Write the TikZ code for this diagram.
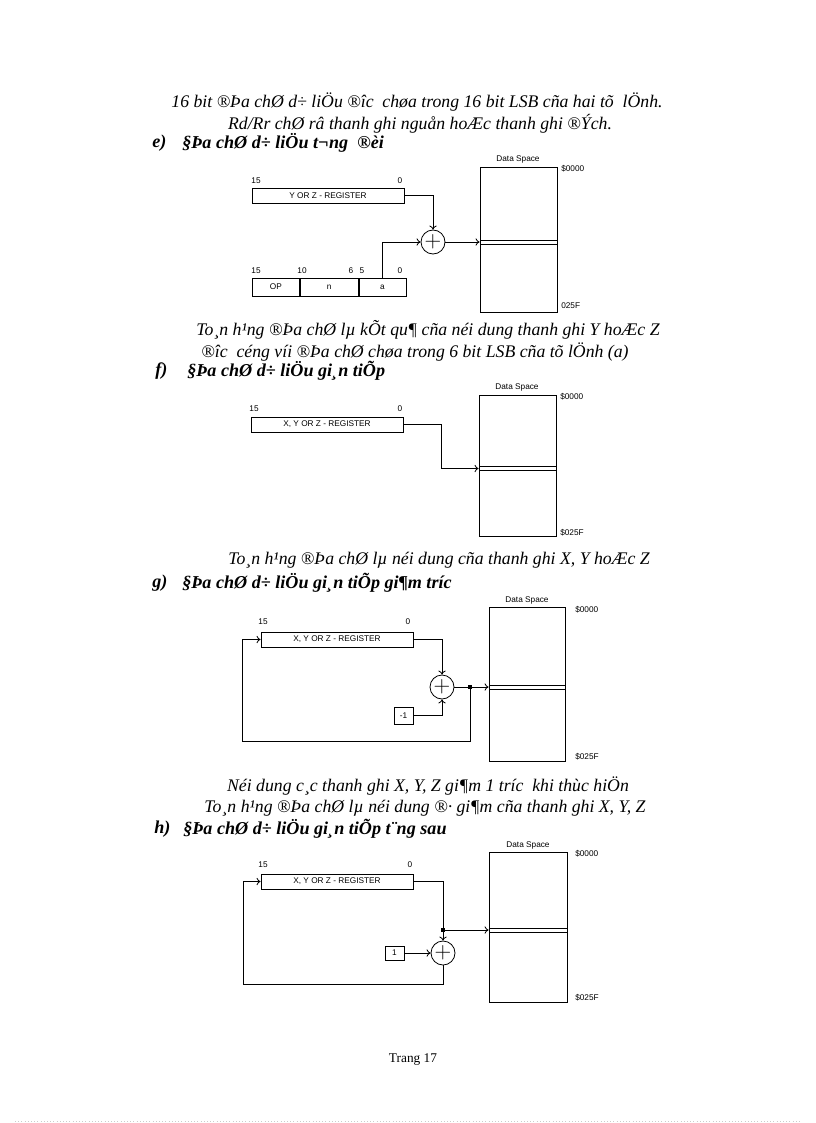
\documentclass[tikz,border=0pt]{standalone}
\usepackage{fontspec}
\setmainfont{Liberation Serif}
\setsansfont{Liberation Sans}
\usepackage{tikz}
\usetikzlibrary{positioning,arrows.meta}

\begin{document}
\begin{tikzpicture}[x=0.75pt,y=-0.75pt,>={To[length=3pt,width=5.5pt]},
  body/.style={font=\fontsize{13.3}{15}\selectfont\itshape,inner sep=0pt},
  head/.style={font=\fontsize{13.6}{15}\selectfont\bfseries\itshape,inner sep=0pt,anchor=west},
  tag/.style={font=\fontsize{6.2}{7}\selectfont\sffamily,inner sep=0pt},
  reg/.style={draw,line width=0.6pt,minimum width=114pt,minimum height=11.25pt,inner sep=0pt,font=\fontsize{6.2}{7}\selectfont\sffamily},
  cell/.style={draw,line width=0.6pt,minimum height=13.5pt,inner sep=0pt,font=\fontsize{6.2}{7}\selectfont\sffamily},
  adder/.style={draw,circle,line width=0.6pt,minimum size=18pt,inner sep=0pt,font=\fontsize{16}{16}\selectfont},
  dspace/.style={draw,line width=0.6pt,minimum width=57.75pt,inner sep=0pt},
  slot/.style={draw,line width=0.6pt,minimum width=57.75pt,minimum height=3pt,inner sep=0pt},
  dot/.style={fill,minimum size=3pt,inner sep=0pt},
  wire/.style={line width=0.6pt}]
\useasboundingbox (0,0) rectangle (816,1123);

% text above e)
\node[body] (t1) at (417,102) {16 bit ®Þa chØ d÷ liÖu ®îc\ \ chøa trong 16 bit LSB cña hai tõ\ \ lÖnh.};
\node[body] (t2) at (420,124) {Rd/Rr chØ râ thanh ghi nguån hoÆc thanh ghi ®Ých.};
\node[head] (he) at (152,143) {e)};
\node[head] (hetxt) at (182,143) {§Þa chØ d÷ liÖu t¬ng\ \ ®èi};

% e) relative
\node[tag] (dsEtag) at (518,159) {Data Space};
\node[dspace,minimum height=108.75pt] (dsE) at (518.5,239.5) {};
\node[slot] (slotE) at (518.5,242) {};
\node[tag,anchor=west] (topE) at (561,169) {\$0000};
\node[tag,anchor=west] (botE) at (561,306) {025F};
\node[reg] (regE) at (328,195.5) {Y OR Z - REGISTER};
\node[tag] at (256,181) {15};
\node[tag] at (400,181) {0};
\node[cell,minimum width=35.25pt,anchor=west] (opE) at (252,287) {OP};
\node[cell,minimum width=43.5pt,right=0pt of opE] (nE) {n};
\node[cell,minimum width=35.25pt,right=0pt of nE] (aE) {a};
\node[tag] at (256,271) {15};
\node[tag] at (302,271) {10};
\node[tag] at (351,271) {6};
\node[tag] at (362,271) {5};
\node[tag] at (400,271) {0};
\node[adder] (addE) at (433,242) {$+$};
\draw[wire,->] (regE.east) -| (addE.north);
\draw[wire,->] (aE.north) |- (addE.west);
\draw[wire,->] (addE.east) -- (slotE.west);

\node[body] (ce1) at (428,330) {To¸n h¹ng ®Þa chØ lµ kÕt qu¶ cña néi dung thanh ghi Y hoÆc Z};
\node[body] (ce2) at (415,352) {®îc\ \ céng víi ®Þa chØ chøa trong 6 bit LSB cña tõ lÖnh (a)};
\node[head] (hf) at (155,371) {f)};
\node[head] (hftxt) at (187,371) {§Þa chØ d÷ liÖu gi¸n tiÕp};

% f) indirect
\node[tag] (dsFtag) at (517,387) {Data Space};
\node[dspace,minimum height=105.75pt] (dsF) at (517.5,465.5) {};
\node[slot] (slotF) at (517.5,468.5) {};
\node[tag,anchor=west] (topF) at (560,397) {\$0000};
\node[tag,anchor=west] (botF) at (560,533) {\$025F};
\node[reg] (regF) at (327,424.5) {X, Y OR Z - REGISTER};
\node[tag] at (254,409) {15};
\node[tag] at (400,409) {0};
\coordinate (bendF) at (441,424.5);
\draw[wire,->] (regF.east) -- (bendF) |- (slotF.west);

\node[body] (cf) at (439,560) {To¸n h¹ng ®Þa chØ lµ néi dung cña thanh ghi X, Y hoÆc Z};
\node[head] (hg) at (152,583) {g)};
\node[head] (hgtxt) at (182,583) {§Þa chØ d÷ liÖu gi¸n tiÕp gi¶m tríc};

% g) pre-decrement
\node[tag] (dsGtag) at (527,600) {Data Space};
\node[dspace,minimum width=57pt,minimum height=115.5pt] (dsG) at (527,684) {};
\node[slot,minimum width=57pt] (slotG) at (527,687) {};
\node[tag,anchor=west] (topG) at (575,610) {\$0000};
\node[tag,anchor=west] (botG) at (575,757) {\$025F};
\node[reg] (regG) at (337,639.5) {X, Y OR Z - REGISTER};
\node[tag] at (263,622) {15};
\node[tag] at (408,622) {0};
\node[adder] (addG) at (442,687) {$+$};
\node[cell,minimum width=14.25pt,minimum height=12.75pt] (decG) at (403.5,715.5) {-1};
\node[dot] (dotG) at (470,687) {};
\coordinate (fbG) at (242,741);
\draw[wire,->] (regG.east) -| (addG.north);
\draw[wire,->] (decG.east) -| (addG.south);
\draw[wire] (addG.east) -- (dotG);
\draw[wire,->] (dotG) -- (slotG.west);
\draw[wire,->] (dotG) |- (fbG) |- (regG.west);

\node[body] (cg1) at (428,786) {Néi dung c¸c thanh ghi X, Y, Z gi¶m 1 tríc\ \ khi thùc hiÖn};
\node[body] (cg2) at (425,808) {To¸n h¹ng ®Þa chØ lµ néi dung ®· gi¶m cña thanh ghi X, Y, Z};
\node[head] (hh) at (154,829) {h)};
\node[head] (hhtxt) at (183,829) {§Þa chØ d÷ liÖu gi¸n tiÕp t¨ng sau};

% h) post-increment
\node[tag] (dsHtag) at (528,845) {Data Space};
\node[dspace,minimum width=58.5pt,minimum height=112.5pt] (dsH) at (528,927) {};
\node[slot,minimum width=58.5pt] (slotH) at (528,930) {};
\node[tag,anchor=west] (topH) at (575,854) {\$0000};
\node[tag,anchor=west] (botH) at (575,998) {\$025F};
\node[reg] (regH) at (337,881.5) {X, Y OR Z - REGISTER};
\node[tag] at (263,865) {15};
\node[tag] at (410,865) {0};
\node[dot] (dotH) at (443,930) {};
\node[adder] (addH) at (443,953) {$+$};
\node[cell,minimum width=14.25pt,minimum height=10.5pt] (incH) at (394.5,953) {1};
\coordinate (fbH) at (243,984);
\draw[wire] (regH.east) -| (dotH);
\draw[wire,->] (dotH) -- (addH.north);
\draw[wire,->] (dotH) -- (slotH.west);
\draw[wire,->] (incH.east) -- (addH.west);
\draw[wire,->] (addH.south) |- (fbH) |- (regH.west);

% footer
\node[font=\fontsize{10}{12}\selectfont,inner sep=0pt] (pg) at (413,1060) {Trang 17};
\draw[gray!40,dotted] (15,1121) -- (800,1121);
\end{tikzpicture}
\end{document}
